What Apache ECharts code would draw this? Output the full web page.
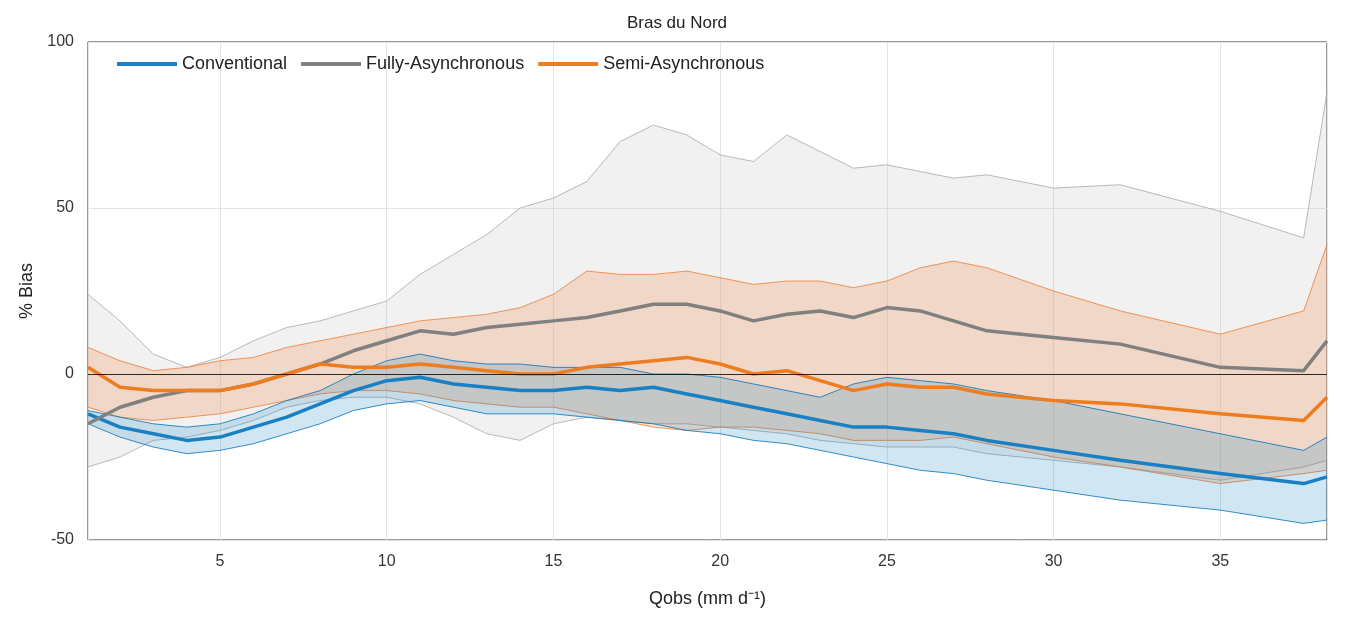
<!DOCTYPE html>
<html><head><meta charset="utf-8">
<script src="https://cdn.jsdelivr.net/npm/echarts@6/dist/echarts.min.js"></script>
<style>html,body{margin:0;background:#fff}#c{width:1354px;height:626px}</style>
</head><body><div id="c"></div>
<script>
// Qobs points
var qobs = [1.04,2,3,4,5,6,7,8,9,10,11,12,13,14,15,16,17,18,19,20,21,22,23,24,25,26,27,28,30,32,35,37.5,38.2];
// Conventional
var convMed = [-12,-16,-18,-20,-19,-16,-13,-9,-5,-2,-1,-3,-4,-5,-5,-4,-5,-4,-6,-8,-10,-12,-14,-16,-16,-17,-18,-20,-23,-26,-30,-33,-31];
var convUp  = [-11,-13,-15,-16,-15,-12,-8,-5,0,4,6,4,3,3,2,2,2,0,0,-1,-3,-5,-7,-3,-1,-2,-3,-5,-8,-12,-18,-23,-19];
var convLo  = [-15,-19,-22,-24,-23,-21,-18,-15,-11,-9,-8,-10,-12,-12,-12,-13,-14,-15,-17,-18,-20,-21,-23,-25,-27,-29,-30,-32,-35,-38,-41,-45,-44];
// Fully-Asynchronous
var fullMed = [-15,-10,-7,-5,-5,-3,0,3,7,10,13,12,14,15,16,17,19,21,21,19,16,18,19,17,20,19,16,13,11,9,2,1,10];
var fullUp  = [24,16,6,2,5,10,14,16,19,22,30,36,42,50,53,58,70,75,72,66,64,72,67,62,63,61,59,60,56,57,49,41,85];
var fullLo  = [-28,-25,-20,-19,-17,-14,-10,-8,-7,-7,-9,-13,-18,-20,-15,-13,-14,-15,-15,-16,-17,-18,-20,-21,-22,-22,-22,-24,-26,-28,-32,-28,-26];
// Semi-Asynchronous
var semiMed = [2,-4,-5,-5,-5,-3,0,3,2,2,3,2,1,0,0,2,3,4,5,3,0,1,-2,-5,-3,-4,-4,-6,-8,-9,-12,-14,-7];
var semiUp  = [8,4,1,2,4,5,8,10,12,14,16,17,18,20,24,31,30,30,31,29,27,28,28,26,28,32,34,32,25,19,12,19,39];
var semiLo  = [-10,-13,-14,-13,-12,-10,-8,-6,-5,-5,-6,-8,-9,-10,-10,-12,-14,-16,-17,-16,-16,-17,-18,-20,-20,-20,-19,-21,-25,-28,-33,-30,-29];

function pts(arr){ return arr.map(function(v,i){ return [qobs[i], v]; }); }

// band polygon: upper edge left->right then lower edge right->left
function band(name, lo, up, edge, fill){
  return {
    name: name, type:'custom', silent:true, data:[0],
    renderItem: function(params, api){
      var top = [], bot = [];
      for (var i = 0; i < qobs.length; i++) {
        top.push(api.coord([qobs[i], up[i]]));
        bot.push(api.coord([qobs[i], lo[i]]));
      }
      var poly = top.concat(bot.slice().reverse());
      return {type:'group', children:[
        {type:'polygon', shape:{points:poly}, style:{fill:fill}},
        {type:'polyline', shape:{points:top}, style:{stroke:edge, lineWidth:0.8, fill:null}},
        {type:'polyline', shape:{points:bot}, style:{stroke:edge, lineWidth:0.8, fill:null}}
      ]};
    }
  };
}

var series = [
  band('gband', fullLo, fullUp, '#a8a8a8', 'rgba(200,200,200,0.25)'),
  band('oband', semiLo, semiUp, '#ed7d31', 'rgba(237,125,49,0.22)'),
  band('bband', convLo, convUp, '#0072bd', 'rgba(0,114,189,0.18)'),
  {name:'Conventional', type:'line', data:pts(convMed), symbol:'none', lineStyle:{width:3.5, color:'#1a80c4'}, itemStyle:{color:'#1a80c4'},
   markLine:{silent:true, symbol:'none', label:{show:false}, lineStyle:{color:'#000', width:0.8, type:'solid'}, data:[{yAxis:0}]}},
  {name:'Fully-Asynchronous', type:'line', data:pts(fullMed), symbol:'none', lineStyle:{width:3.5, color:'#808080'}, itemStyle:{color:'#808080'}},
  {name:'Semi-Asynchronous', type:'line', data:pts(semiMed), symbol:'none', lineStyle:{width:3.5, color:'#ed7d1f'}, itemStyle:{color:'#ed7d1f'}}
];

var chart = echarts.init(document.getElementById('c'));
chart.setOption({
  animation:false,
  textStyle:{fontFamily:'Arial, Liberation Sans, sans-serif'},
  title:{text:'Bras du Nord', left:'center', top:10, textStyle:{fontSize:17, fontWeight:'normal', color:'#222'}},
  legend:{data:['Conventional','Fully-Asynchronous','Semi-Asynchronous'], left:112, top:50,
    itemWidth:60, itemHeight:4, itemGap:14, icon:'rect', textStyle:{fontSize:18, color:'#222'}},
  grid:{left:88, right:27, top:42, bottom:86, show:true, borderColor:'#333', borderWidth:1},
  xAxis:{type:'value', min:1.04, max:38.2, splitNumber:7,
    name:'Qobs (mm d⁻¹)', nameLocation:'middle', nameGap:50, nameTextStyle:{fontSize:18, color:'#222'},
    axisLabel:{fontSize:16, color:'#333', showMinLabel:false, showMaxLabel:false, margin:14},
    axisLine:{show:false}, axisTick:{show:false},
    splitLine:{show:true, lineStyle:{color:'#e3e3e3'}}},
  yAxis:{type:'value', min:-50, max:100, interval:50,
    name:'% Bias', nameLocation:'middle', nameGap:52, nameTextStyle:{fontSize:18, color:'#222'},
    axisLabel:{fontSize:16, color:'#333', margin:14},
    axisLine:{show:false}, axisTick:{show:false},
    splitLine:{show:true, lineStyle:{color:'#e3e3e3'}}},
  series: series
});
</script></body></html>
